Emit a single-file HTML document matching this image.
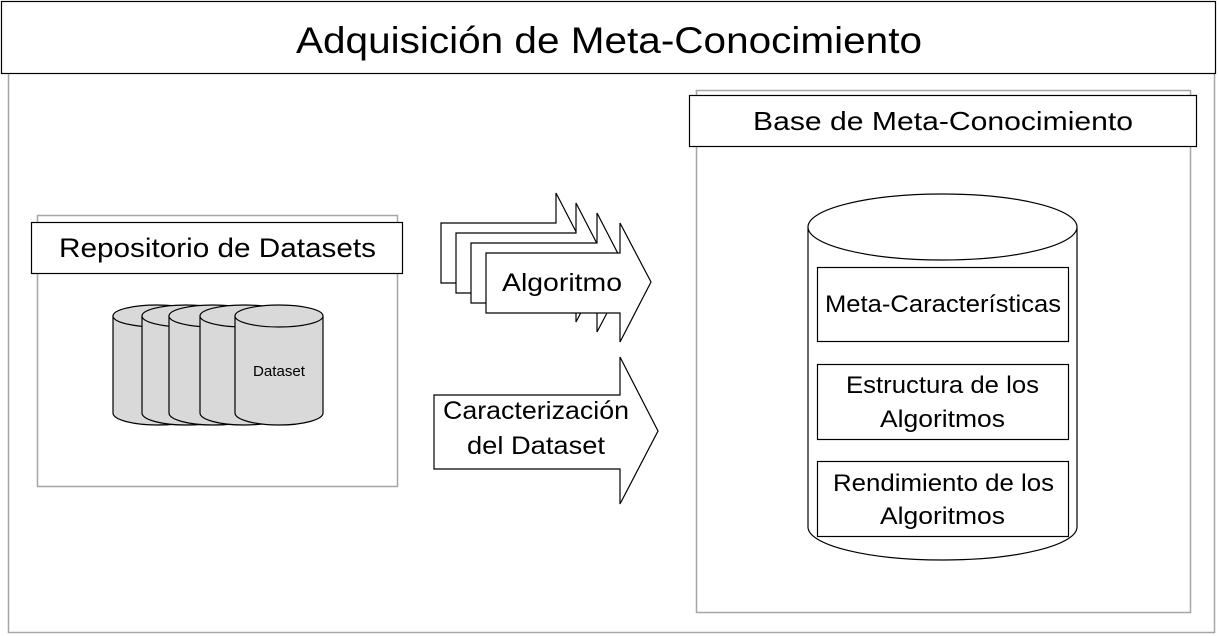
<!DOCTYPE html>
<html><head><meta charset="utf-8"><style>
html,body{margin:0;padding:0;background:#fff;}
svg{display:block;}
text{font-family:"Liberation Sans",sans-serif;fill:#000;}
</style></head><body>
<svg width="1219" height="636" viewBox="0 0 1219 636" xmlns="http://www.w3.org/2000/svg">
<rect x="8.5" y="70.5" width="1206" height="562" fill="#fff" stroke="#a6a6a6" stroke-width="1.5"/>
<rect x="1.5" y="1.5" width="1214" height="72" fill="#fff" stroke="#000" stroke-width="1.2"/>
<text x="296" y="53" font-size="37" textLength="626" lengthAdjust="spacingAndGlyphs">Adquisición de Meta-Conocimiento</text>

<!-- left panel -->
<rect x="37.5" y="215.5" width="360" height="271" fill="#fff" stroke="#a6a6a6" stroke-width="1.5"/>
<rect x="31.5" y="222.5" width="371" height="51" fill="#fff" stroke="#000" stroke-width="1.2"/>
<text x="59" y="257" font-size="27" textLength="317" lengthAdjust="spacingAndGlyphs">Repositorio de Datasets</text>
<g fill="#d9d9d9" stroke="#000" stroke-width="1.2">
<path d="M113 316 v97 a44 12 0 0 0 88 0 v-97 a44 11 0 0 0 -88 0 a44 11 0 0 0 88 0"/>
<path d="M142 316 v97 a44 12 0 0 0 88 0 v-97 a44 11 0 0 0 -88 0 a44 11 0 0 0 88 0"/>
<path d="M169 316 v97 a44 12 0 0 0 88 0 v-97 a44 11 0 0 0 -88 0 a44 11 0 0 0 88 0"/>
<path d="M200 316 v97 a44 12 0 0 0 88 0 v-97 a44 11 0 0 0 -88 0 a44 11 0 0 0 88 0"/>
<path d="M235 316 v97 a44 12 0 0 0 88 0 v-97 a44 11 0 0 0 -88 0 a44 11 0 0 0 88 0"/>
</g>
<text x="253" y="376" font-size="15" textLength="52" lengthAdjust="spacingAndGlyphs">Dataset</text>

<!-- arrows -->
<g fill="#fff" stroke="#000" stroke-width="1.2">
<path d="M441 223 H556 V193 L587 253 L556 312 V283 H441 Z"/>
<path d="M456 233 H576 V203 L607 263 L576 322 V293 H456 Z"/>
<path d="M471 243 H597 V213 L628 273 L597 332 V303 H471 Z"/>
<path d="M486 253 H620 V223 L651 282 L620 342 V313 H486 Z"/>
<path d="M434 395 H620 V357 L658 431 L620 504 V469 H434 Z"/>
</g>
<text x="502" y="291" font-size="25" textLength="120" lengthAdjust="spacingAndGlyphs">Algoritmo</text>
<text x="443" y="419" font-size="25" textLength="186" lengthAdjust="spacingAndGlyphs">Caracterización</text>
<text x="467" y="454" font-size="25" textLength="138" lengthAdjust="spacingAndGlyphs">del Dataset</text>

<!-- right panel -->
<rect x="696.5" y="90.5" width="494" height="522" fill="#fff" stroke="#a6a6a6" stroke-width="1.5"/>
<rect x="689.5" y="95.5" width="507" height="51" fill="#fff" stroke="#000" stroke-width="1.2"/>
<text x="753" y="130" font-size="26" textLength="380" lengthAdjust="spacingAndGlyphs">Base de Meta-Conocimiento</text>
<path d="M808 227 V527 A134.5 33 0 0 0 1077 527 V227 A134.5 33 0 0 0 808 227 A134.5 33 0 0 0 1077 227" fill="#fff" stroke="#000" stroke-width="1.2"/>
<g fill="#fff" stroke="#000" stroke-width="1.2">
<rect x="817.5" y="267.5" width="251" height="74"/>
<rect x="817.5" y="364.5" width="251" height="75"/>
<rect x="817.5" y="461.5" width="251" height="75"/>
</g>
<g font-size="24" lengthAdjust="spacingAndGlyphs">
<text x="825" y="312" textLength="236" lengthAdjust="spacingAndGlyphs">Meta-Características</text>
<text x="846" y="393" textLength="193" lengthAdjust="spacingAndGlyphs">Estructura de los</text>
<text x="880" y="427" textLength="125" lengthAdjust="spacingAndGlyphs">Algoritmos</text>
<text x="833" y="491" textLength="221" lengthAdjust="spacingAndGlyphs">Rendimiento de los</text>
<text x="880" y="524" textLength="125" lengthAdjust="spacingAndGlyphs">Algoritmos</text>
</g>
</svg>
</body></html>
